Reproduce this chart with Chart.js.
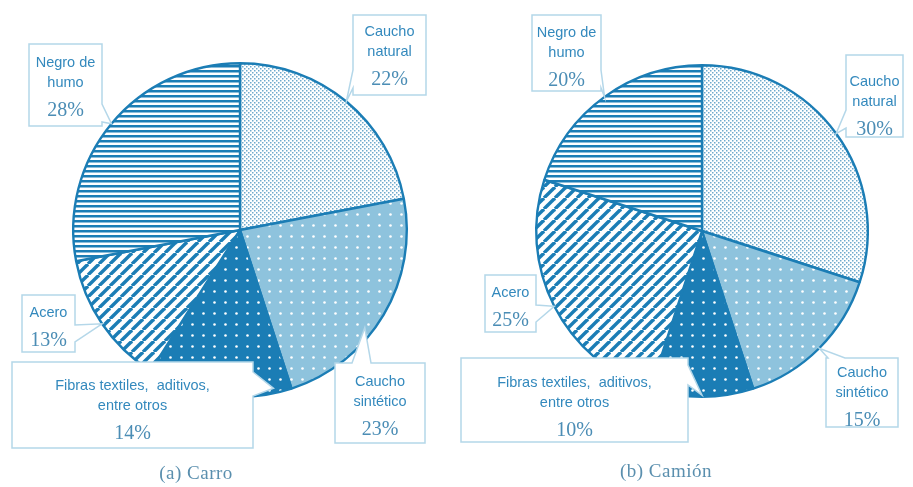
<!DOCTYPE html>
<html>
<head>
<meta charset="utf-8">
<script src="https://cdn.jsdelivr.net/npm/chart.js@4.4.1/dist/chart.umd.min.js"></script>
<style>
  html, body { margin: 0; padding: 0; background: #fff; }
  #wrap { position: relative; width: 913px; height: 487px; overflow: hidden; }
  .half { position: absolute; top: 0; height: 487px; }
  .box { position: absolute; box-sizing: border-box; text-align: center; z-index: 2; }
  .lbl { font-family: "Liberation Sans", Arial, sans-serif; font-size: 14.5px; line-height: 20px; color: #3389bd; white-space: pre; }
  .pct { font-family: "Liberation Serif", "Times New Roman", serif; font-size: 20px; line-height: 26px; margin-top: 4px; color: #4b8db5; }
  .cap { position: absolute; width: 220px; text-align: center; font-family: "Liberation Serif", serif; font-size: 19px; line-height: 24px; color: #5a8fae; letter-spacing: 0.5px; }
</style>
</head>
<body>
<div id="wrap">
  <div class="half" id="h0" style="left:0;width:456px"><canvas id="c0"></canvas></div>
  <div class="half" id="h1" style="left:456px;width:457px"><canvas id="c1"></canvas></div>
</div>
<script>
// order: clockwise from 12 o'clock
const categories = ["Caucho natural", "Caucho sintético", "Fibras textiles, aditivos, entre otros", "Acero", "Negro de humo"];
const labelLines = [["Caucho", "natural"], ["Caucho", "sintético"], ["Fibras textiles,  aditivos,", "entre otros"], ["Acero"], ["Negro de", "humo"]];
const carroValues = [22, 23, 14, 13, 28];
const camionValues = [30, 15, 10, 25, 20];
const captions = ["(a) Carro", "(b) Camión"];

const BLUE = "#1b7db5";

function tile(w, h, draw) {
  const c = document.createElement("canvas");
  c.width = w; c.height = h;
  const g = c.getContext("2d");
  draw(g, w, h);
  return document.createElement("canvas").getContext("2d").createPattern(c, "repeat");
}

const patNatural = tile(4, 4, (g) => {
  g.fillStyle = "#fff"; g.fillRect(0, 0, 4, 4);
  g.fillStyle = "#6fa9cc";
  g.fillRect(0, 0, 1.5, 1.5);
  g.fillRect(2, 2, 1.5, 1.5);
});
const dotted = (bg) => tile(11, 11, (g) => {
  g.fillStyle = bg; g.fillRect(0, 0, 11, 11);
  g.fillStyle = "#fff";
  g.beginPath(); g.arc(5.5, 5.5, 1.3, 0, Math.PI * 2); g.fill();
});
const patSintetico = dotted("#8ec3dd");
const patFibras = dotted("#1b7db5");
const patAcero = tile(11, 11, (g) => {
  g.fillStyle = "#fff"; g.fillRect(0, 0, 11, 11);
  g.strokeStyle = BLUE; g.lineWidth = 3.4;
  for (const o of [-11, 0, 11]) {
    g.beginPath(); g.moveTo(o, 11); g.lineTo(o + 11, 0); g.stroke();
  }
});
const patHumo = tile(5, 5, (g) => {
  g.fillStyle = "#fff"; g.fillRect(0, 0, 5, 5);
  g.fillStyle = BLUE; g.fillRect(0, 0, 5, 2.5);
});
const patterns = [patNatural, patSintetico, patFibras, patAcero, patHumo];

// callout layout (page coordinates); tip follows the slice via frac / radius ratio
const callouts = [
  [
    { rect: [353, 15, 73, 80], side: "left", a: 70, b: 88, frac: 0.5, rr: 1.0, pt: 6 },
    { rect: [335, 363, 90, 80], side: "top", a: 352, b: 371, frac: 0.59, rr: 0.95, pt: 8 },
    { rect: [12, 362, 241, 86], side: "right", a: 372, b: 396, frac: 0.12, rr: 0.97, pt: 13 },
    { rect: [22, 295, 53, 57], side: "right", a: 325, b: 342, frac: 0.5, rr: 1.0, pt: 7 },
    { rect: [29, 44, 73, 82], side: "right", a: 104, b: 122, frac: 0.5, rr: 1.0, pt: 8 }
  ],
  [
    { rect: [846, 55, 57, 82], side: "left", a: 110, b: 128, frac: 0.5, rr: 1.0, pt: 16 },
    { rect: [826, 358, 72, 69], side: "top", a: 828, b: 845, frac: 0.5, rr: 1.0, pt: 4 },
    { rect: [461, 358, 227, 84], side: "right", a: 365, b: 385, frac: 0.5, rr: 0.99, pt: 14 },
    { rect: [485, 275, 51, 57], side: "right", a: 305, b: 322, frac: 0.5, rr: 1.0, pt: 7 },
    { rect: [532, 15, 69, 76], side: "right", a: 70, b: 88, frac: 0.5, rr: 1.0, pt: 7 }
  ]
];
const offsets = [0, 456];

const calloutPlugin = {
  id: "callouts",
  afterDatasetsDraw(chart, args, opts) {
    const ctx = chart.ctx;
    const meta = chart.getDatasetMeta(0);
    const dx = opts.dx;
    opts.items.forEach((c, i) => {
      const arc = meta.data[i].getProps(["x", "y", "startAngle", "endAngle", "outerRadius"], true);
      const ang = arc.startAngle + c.frac * (arc.endAngle - arc.startAngle);
      const tx = arc.x + Math.cos(ang) * arc.outerRadius * c.rr;
      const ty = arc.y + Math.sin(ang) * arc.outerRadius * c.rr;
      const [x0, y, w, h] = c.rect;
      const x = x0 - dx;
      const a = c.side === "top" ? c.a - dx : c.a;
      const b = c.side === "top" ? c.b - dx : c.b;
      ctx.save();
      ctx.beginPath();
      ctx.moveTo(x, y);
      if (c.side === "top") { ctx.lineTo(a, y); ctx.lineTo(tx, ty); ctx.lineTo(b, y); }
      ctx.lineTo(x + w, y);
      if (c.side === "right") { ctx.lineTo(x + w, a); ctx.lineTo(tx, ty); ctx.lineTo(x + w, b); }
      ctx.lineTo(x + w, y + h);
      ctx.lineTo(x, y + h);
      if (c.side === "left") { ctx.lineTo(x, b); ctx.lineTo(tx, ty); ctx.lineTo(x, a); }
      ctx.closePath();
      ctx.fillStyle = "#fff";
      ctx.fill();
      ctx.strokeStyle = "#b4d7e9";
      ctx.lineWidth = 1.5;
      ctx.stroke();
      ctx.restore();
    });
  }
};

function makePie(idx, values, padding) {
  return new Chart(document.getElementById("c" + idx), {
    type: "pie",
    data: {
      labels: categories,
      datasets: [{
        data: values,
        backgroundColor: patterns,
        borderColor: BLUE,
        borderWidth: 2.4,
        hoverOffset: 0
      }]
    },
    options: {
      responsive: true,
      maintainAspectRatio: false,
      animation: false,
      layout: { padding },
      plugins: {
        legend: { display: false },
        tooltip: { enabled: false },
        callouts: { items: callouts[idx], dx: offsets[idx] }
      }
    },
    plugins: [calloutPlugin]
  });
}

makePie(0, carroValues, { left: 72, top: 62, right: 48, bottom: 89 });
makePie(1, camionValues, { left: 79, top: 64, right: 44, bottom: 89 });

// text of the callouts
const wrap = document.getElementById("wrap");
[carroValues, camionValues].forEach((vals, k) => {
  callouts[k].forEach((c, i) => {
    const d = document.createElement("div");
    d.className = "box";
    d.style.left = c.rect[0] + "px";
    d.style.top = c.rect[1] + "px";
    d.style.width = c.rect[2] + "px";
    d.style.paddingTop = c.pt + "px";
    labelLines[i].forEach((t) => {
      const l = document.createElement("div");
      l.className = "lbl";
      l.textContent = t;
      d.appendChild(l);
    });
    const p = document.createElement("div");
    p.className = "pct";
    p.textContent = vals[i] + "%";
    d.appendChild(p);
    wrap.appendChild(d);
  });
});

const capPos = [[86, 461], [556, 459]];
captions.forEach((t, k) => {
  const d = document.createElement("div");
  d.className = "cap";
  d.style.left = capPos[k][0] + "px";
  d.style.top = capPos[k][1] + "px";
  d.textContent = t;
  wrap.appendChild(d);
});
</script>
</body>
</html>
